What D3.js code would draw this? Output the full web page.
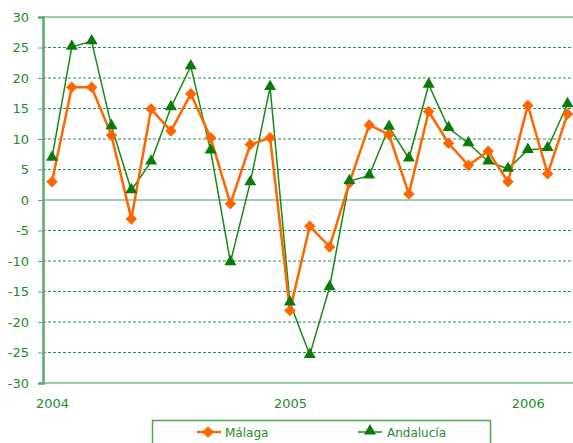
<!DOCTYPE html>
<html>
<head>
<meta charset="utf-8">
<script src="https://cdn.jsdelivr.net/npm/d3@7"></script>
<style>
  body { margin: 0; background: #fff; }
  svg { display: block; font-family: "DejaVu Sans", Verdana, sans-serif; }
</style>
</head>
<body>
<div class="graphContainer"></div>
<script>
// size of the page
const w = 573;
const h = 443;

// months Jan 2004 .. Mar 2006
const months = d3.range(27);
const yearLabels = ["2004", "2005", "2006"];
const yearTicks = [0, 12, 24];
const yTicks = [-30, -25, -20, -15, -10, -5, 0, 5, 10, 15, 20, 25, 30];

const malaga = [3, 18.5, 18.5, 10.6, -3.1, 14.9, 11.3, 17.4, 10.2, -0.6, 9.1, 10.2,
                -18.1, -4.3, -7.7, 2.8, 12.3, 10.7, 1.0, 14.5, 9.3, 5.7, 8.0, 3.0,
                15.5, 4.3, 14.1];
const andalucia = [6.9, 25.1, 26.0, 12.1, 1.6, 6.3, 15.2, 21.9, 8.1, -10.2, 2.9, 18.5,
                   -16.8, -25.4, -14.3, 3.1, 4.0, 12.0, 6.8, 18.9, 11.8, 9.3, 6.3, 5.1,
                   8.2, 8.5, 15.7];

const orange = "#ff6600";
const green = "#0a7a0a";
const textGreen = "#1e8c28";

const svg = d3.select(".graphContainer").append("svg")
  .attr("width", w).attr("height", h);

// scales
const x = d3.scaleLinear().domain([0, 26]).range([52, 567.5]);
const y = d3.scaleLinear().domain([-30, 30]).range([383, 17]);

// grid lines
svg.append("g").selectAll("line")
  .data(yTicks.filter(d => d !== 0 && d !== 30 && d !== -30))
  .enter().append("line")
  .attr("x1", 43).attr("x2", w)
  .attr("y1", d => y(d)).attr("y2", d => y(d))
  .attr("stroke", "#2a8c50")
  .attr("stroke-width", 1)
  .attr("stroke-dasharray", "3,2");

// top & bottom frame lines
svg.append("line").attr("x1", 43).attr("x2", w).attr("y1", y(30)).attr("y2", y(30))
  .attr("stroke", "#3f9a4f").attr("stroke-width", 1.2);
svg.append("line").attr("x1", 43).attr("x2", w).attr("y1", y(-30)).attr("y2", y(-30))
  .attr("stroke", "#3f9a4f").attr("stroke-width", 1.2);

// zero line
svg.append("line").attr("x1", 43).attr("x2", w).attr("y1", y(0)).attr("y2", y(0))
  .attr("stroke", "#9dcfb0").attr("stroke-width", 2);

// y axis
const yAxis = d3.axisLeft(y).tickValues(yTicks).tickSize(5).tickPadding(9)
  .tickFormat(d => String(d));
const gy = svg.append("g").attr("transform", "translate(43,0)").call(yAxis);
gy.select(".domain").attr("stroke", "#5aaa72").attr("stroke-width", 2.5);
gy.selectAll(".tick line").attr("stroke", "#5aaa72");
gy.selectAll(".tick text").attr("fill", textGreen).style("font-size", "13px")
  .style("font-family", "DejaVu Sans");

// x axis labels
const xAxis = d3.axisBottom(x).tickValues(yearTicks).tickSize(0).tickPadding(16)
  .tickFormat((d, i) => yearLabels[i]);
const gx = svg.append("g").attr("transform", "translate(0," + y(-30) + ")").call(xAxis);
gx.select(".domain").remove();
gx.selectAll(".tick text").attr("fill", textGreen).style("font-size", "13px")
  .style("font-family", "DejaVu Sans");

const line = d3.line().x((d, i) => x(months[i])).y(d => y(d));

// Andalucía
svg.append("path").datum(andalucia)
  .attr("d", line).attr("fill", "none")
  .attr("stroke", "#168a16").attr("stroke-width", 1.5);

// Málaga
svg.append("path").datum(malaga)
  .attr("d", line).attr("fill", "none")
  .attr("stroke", orange).attr("stroke-width", 2.5);

const diamond = d3.symbol().type(d3.symbolSquare).size(66);
const triangle = d3.symbol().type(d3.symbolTriangle).size(62);

svg.append("g").selectAll("path")
  .data(malaga).enter().append("path")
  .attr("d", diamond)
  .attr("transform", (d, i) => `translate(${x(months[i])},${y(d)}) rotate(45)`)
  .attr("fill", orange);

svg.append("g").selectAll("path")
  .data(andalucia).enter().append("path")
  .attr("d", triangle)
  .attr("transform", (d, i) => `translate(${x(months[i])},${y(d) - 0.5})`)
  .attr("fill", green);

// legend
const lg = svg.append("g");
lg.append("rect").attr("x", 152.5).attr("y", 420.5).attr("width", 338).attr("height", 40)
  .attr("fill", "none").attr("stroke", "#4ea64e").attr("stroke-width", 1.5);

lg.append("line").attr("x1", 197).attr("x2", 221).attr("y1", 432).attr("y2", 432)
  .attr("stroke", orange).attr("stroke-width", 2.5);
lg.append("path").attr("d", diamond).attr("transform", "translate(208,432) rotate(45)")
  .attr("fill", orange);
lg.append("text").attr("x", 225).attr("y", 437).text("Málaga")
  .attr("fill", textGreen).style("font-size", "12px");

lg.append("line").attr("x1", 358).attr("x2", 382).attr("y1", 432).attr("y2", 432)
  .attr("stroke", "#168a16").attr("stroke-width", 1.5);
lg.append("path").attr("d", triangle).attr("transform", "translate(370,431)")
  .attr("fill", green);
lg.append("text").attr("x", 387).attr("y", 437).text("Andalucía")
  .attr("fill", textGreen).style("font-size", "12px");
</script>
</body>
</html>
